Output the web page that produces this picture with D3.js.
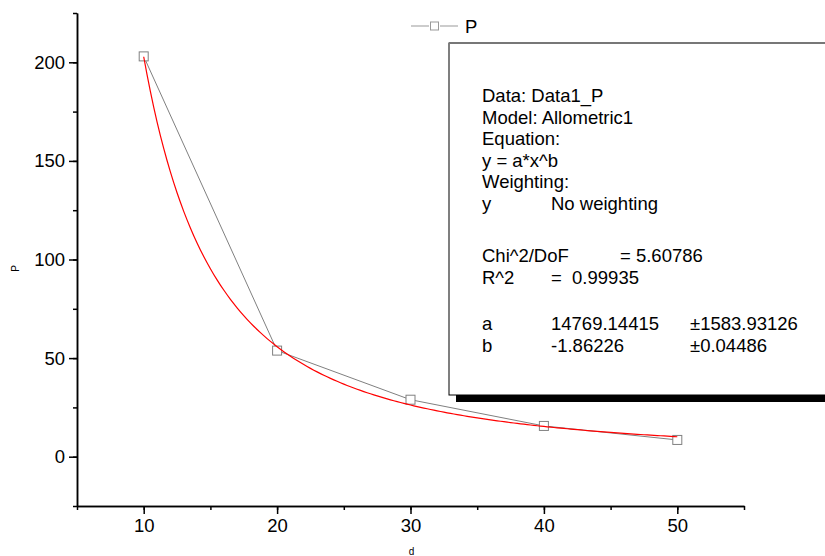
<!DOCTYPE html>
<html>
<head>
<meta charset="utf-8">
<script src="https://cdn.jsdelivr.net/npm/d3@7"></script>
<style>
  html, body { margin: 0; padding: 0; background: #fff; }
  svg { display: block; font-family: "Liberation Sans", Arial, sans-serif; }
  text { white-space: pre; }
</style>
</head>
<body>
<div id="chart"></div>
<script>
// measured values
const dValues = [10, 20, 30, 40, 50];
const pValues = [203, 53.8, 28.9, 15.6, 8.5];

// Allometric1 fit y = a*x^b (parameters from the fit report)
const fitA = 14769.14415;
const fitB = -1.86226;

const xTicks = [10, 20, 30, 40, 50];
const yTicks = [0, 50, 100, 150, 200];

const seriesName = "P";
const reportLines = [
  ["Data: Data1_P"],
  ["Model: Allometric1"],
  ["Equation:"],
  ["y = a*x^b"],
  ["Weighting:"],
  ["y", "No weighting"],
  ["Chi^2/DoF", "= 5.60786"],
  ["R^2", "=  0.99935"],
  ["a", "14769.14415", "±1583.93126"],
  ["b", "-1.86226", "±0.04486"]
];

const width = 825, height = 556;
const plotLeft = 77, plotRight = 744, plotTop = 13, plotBottom = 506;

const svg = d3.select("#chart").append("svg")
  .attr("width", width)
  .attr("height", height);

const x = d3.scaleLinear().domain([5, 55]).range([plotLeft, plotRight]);
const y = d3.scaleLinear().domain([-25, 225]).range([plotBottom, plotTop]);

// axes
const fontSize = "18.5px";

const xMinor = svg.append("g")
  .attr("transform", `translate(0,${plotBottom})`)
  .call(d3.axisBottom(x).tickValues(d3.range(5, 56, 5)).tickSize(4).tickSizeOuter(0).tickFormat(""));
const xMajor = svg.append("g")
  .attr("transform", `translate(0,${plotBottom})`)
  .call(d3.axisBottom(x).tickValues(xTicks).tickSize(8).tickPadding(5).tickSizeOuter(0));

const yMinor = svg.append("g")
  .attr("transform", `translate(${plotLeft},0)`)
  .call(d3.axisLeft(y).tickValues(d3.range(-25, 226, 25)).tickSize(4).tickSizeOuter(0).tickFormat(""));
const yMajor = svg.append("g")
  .attr("transform", `translate(${plotLeft},0)`)
  .call(d3.axisLeft(y).tickValues(yTicks).tickSize(8).tickPadding(4).tickSizeOuter(0));

[xMinor, xMajor, yMinor, yMajor].forEach(g => {
  g.selectAll("path").attr("stroke", "#000").attr("stroke-width", 1.5);
  g.selectAll("line").attr("stroke", "#000").attr("stroke-width", 1.5);
  g.selectAll("text").attr("fill", "#000").style("font-size", fontSize)
    .style("font-family", "'Liberation Sans', Arial, sans-serif");
});

// axis titles
svg.append("text")
  .attr("transform", `translate(19,${y(100) + 9}) rotate(-90)`)
  .attr("text-anchor", "middle")
  .style("font-size", "10px")
  .text(seriesName);

svg.append("text")
  .attr("x", x(30) + 1)
  .attr("y", 555)
  .attr("text-anchor", "middle")
  .style("font-size", "10px")
  .text("d");

// data line
const pts = dValues.map((d, i) => [d, pValues[i]]);
const line = d3.line().x(d => x(d[0])).y(d => y(d[1]));

svg.append("path")
  .datum(pts)
  .attr("d", line)
  .attr("fill", "none")
  .attr("stroke", "#808080")
  .attr("stroke-width", 1);

svg.selectAll("rect.pt")
  .data(pts)
  .enter().append("rect")
  .attr("class", "pt")
  .attr("x", d => x(d[0]) - 4.5)
  .attr("y", d => y(d[1]) - 4.5)
  .attr("width", 9)
  .attr("height", 9)
  .attr("fill", "#fff")
  .attr("stroke", "#808080")
  .attr("stroke-width", 1);

// fitted curve
const fitPts = d3.range(10, 50.001, 0.25).map(d => [d, fitA * Math.pow(d, fitB)]);
svg.append("path")
  .datum(fitPts)
  .attr("d", line)
  .attr("fill", "none")
  .attr("stroke", "#ff0000")
  .attr("stroke-width", 1.2);

// legend
const lg = svg.append("g");
lg.append("line").attr("x1", 411).attr("x2", 429).attr("y1", 26).attr("y2", 26)
  .attr("stroke", "#999").attr("stroke-width", 1);
lg.append("line").attr("x1", 440).attr("x2", 458).attr("y1", 26).attr("y2", 26)
  .attr("stroke", "#999").attr("stroke-width", 1);
lg.append("rect").attr("x", 430.5).attr("y", 22).attr("width", 8).attr("height", 8)
  .attr("fill", "#fff").attr("stroke", "#999").attr("stroke-width", 1);
lg.append("text").attr("x", 465).attr("y", 33).style("font-size", fontSize).text(seriesName);

// fit report box
const boxX = 449, boxY = 43, boxW = 420, boxH = 352;
svg.append("rect").attr("x", boxX + 7).attr("y", boxY + 7)
  .attr("width", boxW).attr("height", boxH).attr("fill", "#000");
svg.append("rect").attr("x", boxX).attr("y", boxY)
  .attr("width", boxW).attr("height", boxH)
  .attr("fill", "#fff").attr("stroke", "#000").attr("stroke-width", 1);
svg.append("line").attr("x1", boxX).attr("x2", width).attr("y1", boxY).attr("y2", boxY)
  .attr("stroke", "#777").attr("stroke-width", 2);

const rowY = [102, 123.5, 145, 166.5, 188, 209.5, 262, 283.5, 330, 351.5];
const colX = [482, 551, 690];

const rows = svg.append("g").selectAll("g")
  .data(reportLines)
  .enter().append("g");

rows.each(function (cells, i) {
  d3.select(this).selectAll("text")
    .data(cells)
    .enter().append("text")
    .attr("x", (c, j) => (i === 6 && j === 1) ? 620 : colX[j])
    .attr("y", rowY[i])
    .style("font-size", fontSize)
    .text(c => c);
});
</script>
</body>
</html>
